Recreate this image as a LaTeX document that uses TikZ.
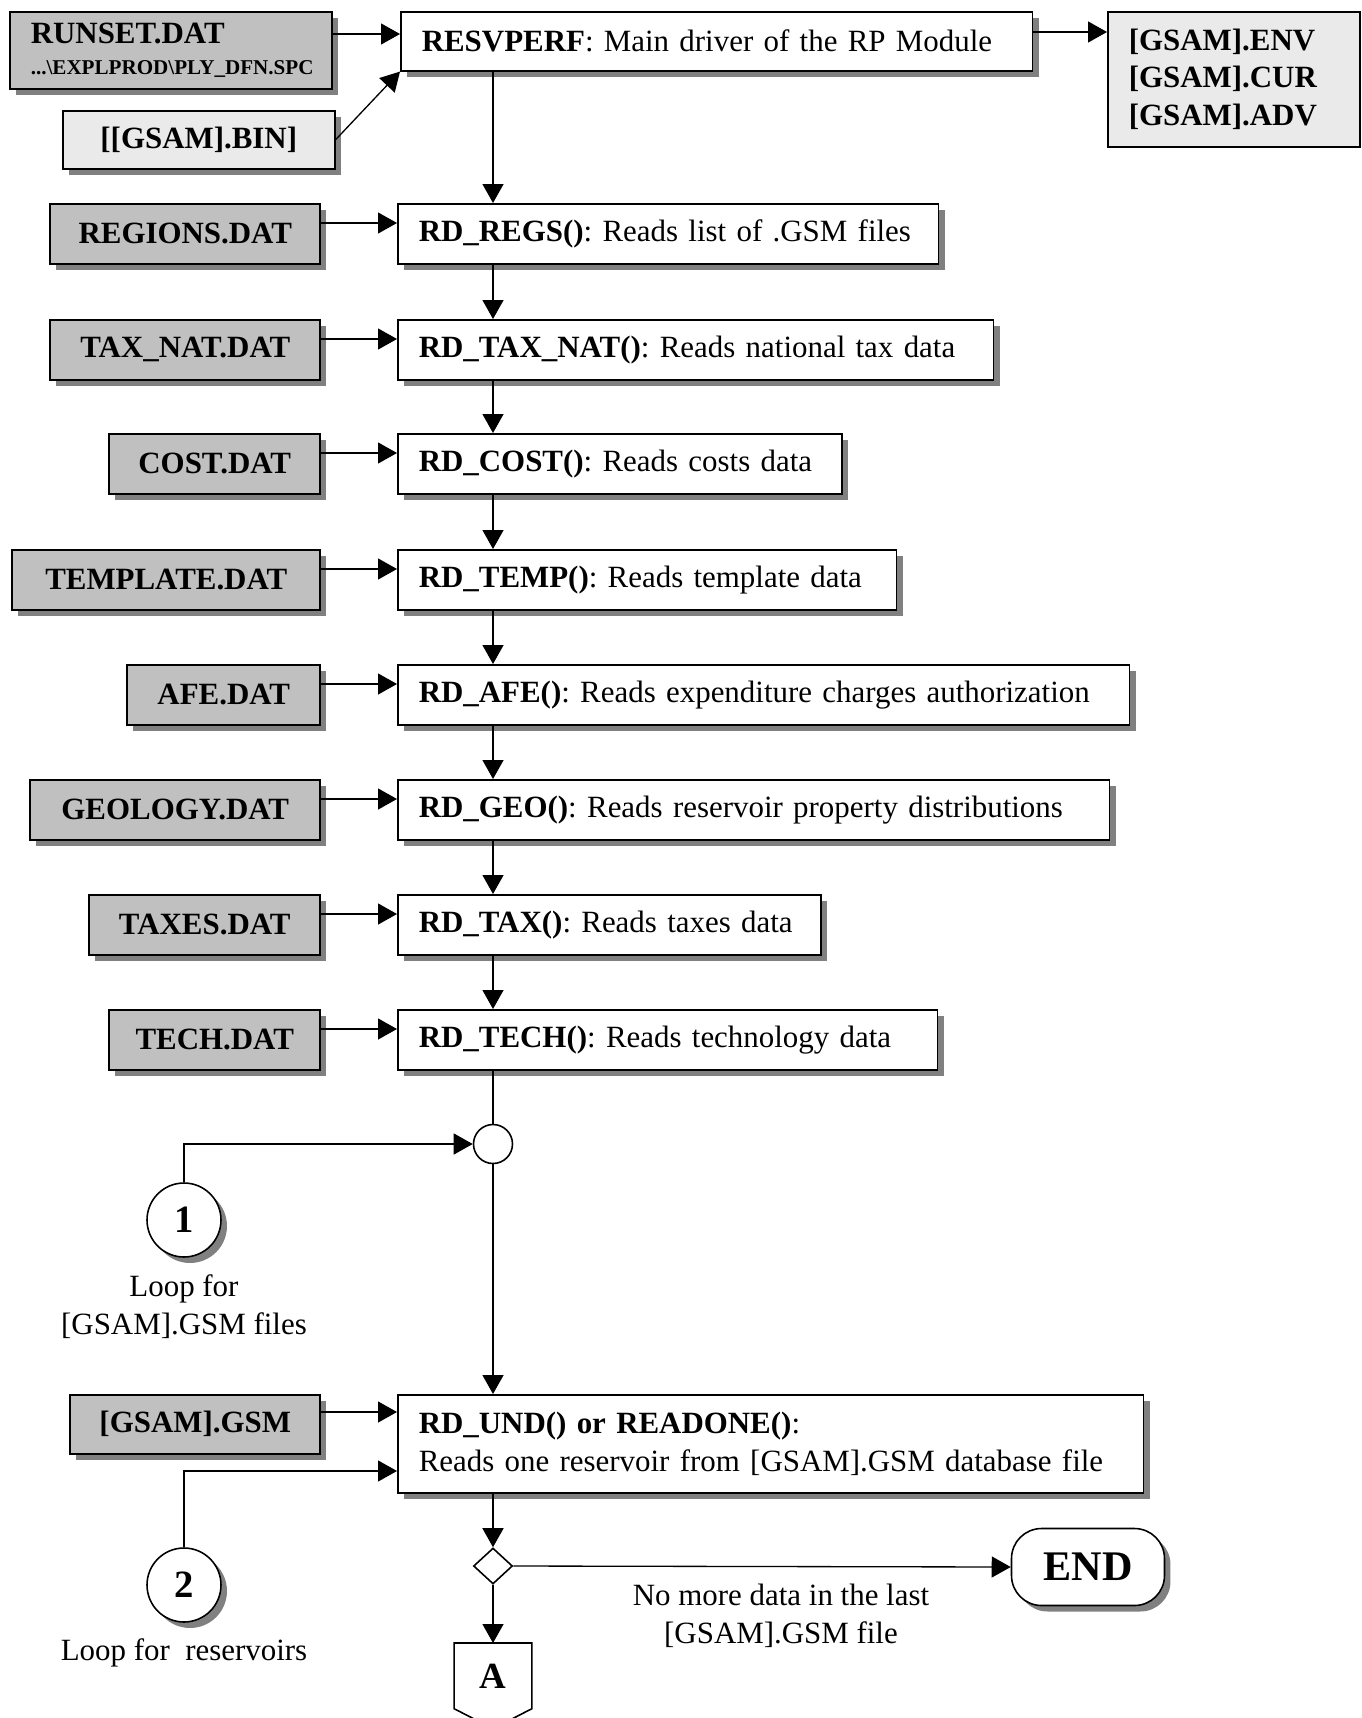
\documentclass[tikz,border=0pt]{standalone}
\usepackage{fontspec}
\setmainfont{Liberation Serif}
\usetikzlibrary{calc,shapes.geometric,shadows,arrows.meta,backgrounds}

\definecolor{filegray}{HTML}{C0C0C0}
\definecolor{binfill}{HTML}{EAEAEA}
\definecolor{shadowgray}{HTML}{808080}
\newcommand{\flowfont}{\fontsize{17.6}{21.5}\selectfont}
\frenchspacing

\begin{document}
\begin{tikzpicture}[x=0.02cm,y=-0.02cm,font=\flowfont,
    shadowed/.style={drop shadow={shadow xshift=0.12cm,shadow yshift=-0.12cm,fill=shadowgray,opacity=1}},
    filebox/.style={draw,line width=0.9pt,fill=filegray,shadowed,anchor=north east,
      minimum width=#1,minimum height=1.2cm,font=\flowfont\bfseries},
    procbox/.style={draw,line width=0.9pt,fill=white,shadowed,anchor=north west,
      align=left,inner xsep=0.42cm,text width=#1,minimum height=1.2cm},
    arr/.style={-{Triangle[length=0.38cm,width=0.42cm]},line width=0.75pt},
    conn/.style={draw,line width=0.9pt,fill=white,inner sep=0pt}]
     \useasboundingbox (0,0) rectangle (1362,1718);

     % driver and its files
     \node[filebox=6.44cm,anchor=north west,minimum height=1.54cm,align=left,
           inner xsep=0.42cm,text width=5.6cm] (runset) at (9,11)
           {RUNSET.DAT\\[-4pt]{\fontsize{12}{14}\selectfont ...\textbackslash EXPLPROD\textbackslash PLY\_DFN.SPC}};
     \node[filebox=5.44cm,anchor=north west,fill=binfill,minimum height=1.16cm] (bin) at (62,110) {[[GSAM].BIN]};
     \node[procbox=11.8cm,minimum height=1.18cm] (resvperf) at (400,11) {\mbox{\textbf{RESVPERF}: Main driver of the RP Module}};
     \node[draw,line width=0.9pt,fill=binfill,anchor=north west,align=left,inner xsep=0.42cm,
           text width=4.2cm,minimum height=2.7cm,font=\flowfont\bfseries] (out) at (1107,11)
           {[GSAM].ENV\\{}[GSAM].CUR\\{}[GSAM].ADV};

     % reading routines
     \node[filebox=5.4cm] (regionsf) at (321,203) {REGIONS.DAT};
     \node[procbox=9.98cm] (regs) at (397,203) {\mbox{\textbf{RD\_REGS()}: Reads list of .GSM files}};
     \node[filebox=5.4cm] (taxnatf) at (321,319) {TAX\_NAT.DAT};
     \node[procbox=11.08cm] (taxnat) at (397,319) {\mbox{\textbf{RD\_TAX\_NAT()}: Reads national tax data}};
     \node[filebox=4.22cm] (costf) at (321,433) {COST.DAT};
     \node[procbox=8.04cm] (cost) at (397,433) {\mbox{\textbf{RD\_COST()}: Reads costs data}};
     \node[filebox=6.16cm] (templatef) at (321,549) {TEMPLATE.DAT};
     \node[procbox=9.14cm] (temp) at (397,549) {\mbox{\textbf{RD\_TEMP()}: Reads template data}};
     \node[filebox=3.86cm] (afef) at (321,664) {AFE.DAT};
     \node[procbox=13.8cm] (afe) at (397,664) {\mbox{\textbf{RD\_AFE()}: Reads expenditure charges authorization}};
     \node[filebox=5.8cm] (geologyf) at (321,779) {GEOLOGY.DAT};
     \node[procbox=13.4cm] (geo) at (397,779) {\mbox{\textbf{RD\_GEO()}: Reads reservoir property distributions}};
     \node[filebox=4.62cm] (taxesf) at (321,894) {TAXES.DAT};
     \node[procbox=7.62cm] (tax) at (397,894) {\mbox{\textbf{RD\_TAX()}: Reads taxes data}};
     \node[filebox=4.22cm] (techf) at (321,1009) {TECH.DAT};
     \node[procbox=9.96cm] (tech) at (397,1009) {\mbox{\textbf{RD\_TECH()}: Reads technology data}};

     % loops
     \node[conn,circle,minimum size=0.78cm] (junc) at (493,1144) {};
     \node[conn,circle,shadowed,minimum size=1.48cm,font=\fontsize{22}{26}\selectfont\bfseries] (loop1) at (184,1220) {1};
     \node[align=center] (loop1txt) at (184,1307) {Loop for\\{}[GSAM].GSM files};
     \node[filebox=5cm,minimum height=1.18cm] (gsm) at (321,1394) {[GSAM].GSM};
     \node[procbox=14.08cm,minimum height=1.96cm] (und) at (397,1394)
           {\mbox{\textbf{RD\_UND() or READONE()}:}\\\mbox{Reads one reservoir from [GSAM].GSM database file}};
     \node[conn,circle,shadowed,minimum size=1.48cm,font=\fontsize{22}{26}\selectfont\bfseries] (loop2) at (184,1585) {2};
     \node (loop2txt) at (184,1653) {Loop for\ \ reservoirs};
     \node[conn,diamond,minimum width=0.78cm,minimum height=0.72cm] (dec) at (493,1566) {};
     \node[draw,line width=0.9pt,fill=white,shadowed,rounded corners=0.6cm,minimum width=3.06cm,
           minimum height=1.54cm,font=\fontsize{24}{28}\selectfont\bfseries] (end) at (1088,1567) {END};
     \node[align=center] (nomore) at (781,1616) {No more data in the last\\{}[GSAM].GSM file};
     \node[anchor=north,minimum width=1.54cm,minimum height=1.3cm,
           font=\fontsize{21}{25}\selectfont\bfseries] (offA) at (493,1643) {A};
     \begin{scope}[on background layer]
       \fill[shadowgray,shift={(6,6)}] (offA.north west) -- (offA.north east) -- (offA.south east)
            -- ($(offA.south)+(0,20)$) -- (offA.south west) -- cycle;
       \filldraw[fill=white,line width=0.9pt] (offA.north west) -- (offA.north east) -- (offA.south east)
            -- ($(offA.south)+(0,20)$) -- (offA.south west) -- cycle;
     \end{scope}

     % connectors
     \draw[arr] ([yshift=-0.46cm]runset.north east) -- ([yshift=-0.46cm]resvperf.north west);
     \draw[arr] (bin.east) -- (resvperf.south west);
     \draw[arr] ([yshift=-0.42cm]resvperf.north east) -- ([yshift=-0.42cm]out.north west);

     \draw[arr] ([yshift=-0.4cm]regionsf.north east) -- ([yshift=-0.4cm]regs.north west);
     \draw[arr] ([yshift=-0.4cm]taxnatf.north east) -- ([yshift=-0.4cm]taxnat.north west);
     \draw[arr] ([yshift=-0.4cm]costf.north east) -- ([yshift=-0.4cm]cost.north west);
     \draw[arr] ([yshift=-0.4cm]templatef.north east) -- ([yshift=-0.4cm]temp.north west);
     \draw[arr] ([yshift=-0.4cm]afef.north east) -- ([yshift=-0.4cm]afe.north west);
     \draw[arr] ([yshift=-0.4cm]geologyf.north east) -- ([yshift=-0.4cm]geo.north west);
     \draw[arr] ([yshift=-0.4cm]taxesf.north east) -- ([yshift=-0.4cm]tax.north west);
     \draw[arr] ([yshift=-0.4cm]techf.north east) -- ([yshift=-0.4cm]tech.north west);

     \draw[arr] (junc |- resvperf.south) -- (junc |- regs.north);
     \draw[arr] (junc |- regs.south) -- (junc |- taxnat.north);
     \draw[arr] (junc |- taxnat.south) -- (junc |- cost.north);
     \draw[arr] (junc |- cost.south) -- (junc |- temp.north);
     \draw[arr] (junc |- temp.south) -- (junc |- afe.north);
     \draw[arr] (junc |- afe.south) -- (junc |- geo.north);
     \draw[arr] (junc |- geo.south) -- (junc |- tax.north);
     \draw[arr] (junc |- tax.south) -- (junc |- tech.north);
     \draw[line width=0.75pt] (junc |- tech.south) -- (junc.north);

     \draw[arr] (loop1.north) |- (junc.west);
     \draw[arr] (junc.south) -- (junc |- und.north);
     \draw[arr] ([yshift=-0.36cm]gsm.north east) -- ([yshift=-0.36cm]und.north west);
     \draw[arr] (loop2.north) |- ([yshift=-1.54cm]und.north west);
     \draw[arr] (dec |- und.south) -- (dec.north);
     \draw[arr] (dec.east) -- (end.west);
     \draw[arr] (dec.south) -- (offA.north);

  \end{tikzpicture}
\end{document}
